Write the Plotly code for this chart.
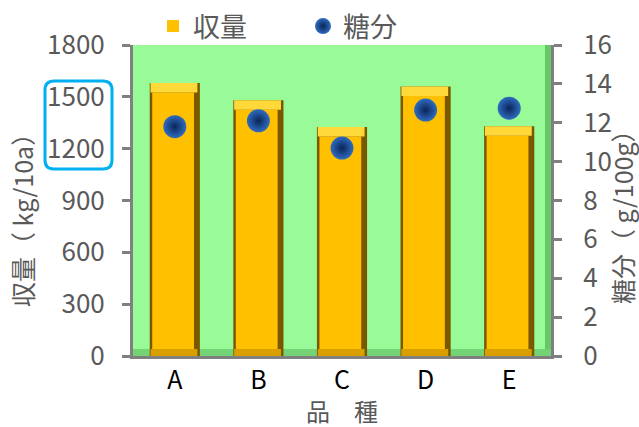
import plotly.graph_objects as go

# ---- data ----
varieties = ["A", "B", "C", "D", "E"]
yield_kg = [1580, 1480, 1325, 1560, 1330]      # 収量 (kg/10a)
sugar = [11.8, 12.1, 10.7, 12.65, 12.75]        # 糖分 (g/100g)
left_ticks = [0, 300, 600, 900, 1200, 1500, 1800]
right_ticks = [0, 2, 4, 6, 8, 10, 12, 14, 16]

FONT = "Noto Sans CJK JP"
GRAY = "#595959"
AXIS = "#808080"

W, H = 639, 427
L, R, T, B = 133, 551, 45, 356


def px(x):
    return (x - L) / (R - L)


def py(y):
    return (B - y) / (B - T)


TOPB = 55   # bevel heights in axis units (style)
BOTB = 40

fig = go.Figure()

# dark shadow body (edges)
fig.add_trace(go.Bar(
    x=varieties, y=yield_kg, width=0.6, showlegend=False, hoverinfo="skip",
    marker=dict(color="#7A5800", line=dict(width=0)), yaxis="y",
))
# bright body
fig.add_trace(go.Bar(
    x=varieties, y=[v - TOPB - BOTB for v in yield_kg], base=BOTB,
    width=0.5, offset=-0.27, name="収量",
    marker=dict(color="#FFC000", line=dict(width=0)), yaxis="y",
))
# top bevel
fig.add_trace(go.Bar(
    x=varieties, y=[TOPB] * len(yield_kg), base=[v - TOPB for v in yield_kg],
    width=0.56, offset=-0.29, showlegend=False, hoverinfo="skip",
    marker=dict(color="#FFD83A", line=dict(width=0)), yaxis="y",
))
# bottom bevel
fig.add_trace(go.Bar(
    x=varieties, y=[BOTB] * len(yield_kg), base=0,
    width=0.56, offset=-0.29, showlegend=False, hoverinfo="skip",
    marker=dict(color="#D99E00", line=dict(width=0)), yaxis="y",
))

fig.add_trace(go.Scatter(
    x=varieties, y=sugar, name="糖分", mode="markers",
    marker=dict(size=23, color="#2F6CC0",
                gradient=dict(type="radial", color="#0A2558"),
                line=dict(width=0)),
    yaxis="y2",
))

# rounded highlight box around 1500 / 1200 labels
x0, x1, y0, y1, r = 45, 112, 81, 169, 9
rx = r / (R - L)
ry = r / (B - T)
X0, X1, Y0, Y1 = px(x0), px(x1), py(y1), py(y0)
path = (f"M {X0+rx},{Y1} L {X1-rx},{Y1} Q {X1},{Y1} {X1},{Y1-ry} "
        f"L {X1},{Y0+ry} Q {X1},{Y0} {X1-rx},{Y0} L {X0+rx},{Y0} "
        f"Q {X0},{Y0} {X0},{Y0+ry} L {X0},{Y1-ry} Q {X0},{Y1} {X0+rx},{Y1} Z")

fig.update_layout(
    width=W, height=H,
    margin=dict(l=L, r=W - R, t=T, b=H - B, pad=0, autoexpand=False),
    paper_bgcolor="white",
    plot_bgcolor="#98FB98",
    font=dict(family=FONT, size=26, color=GRAY),
    barmode="overlay",
    showlegend=True,
    legend=dict(orientation="h", xref="container", yref="container",
                x=153 / W, xanchor="left", y=1 - 2 / H, yanchor="top",
                font=dict(size=27, color=GRAY), entrywidth=105,
                bgcolor="rgba(0,0,0,0)"),
    xaxis=dict(
        type="category", showline=True, linecolor=AXIS, linewidth=3,
        ticks="", showgrid=False, tickfont=dict(size=25, color="black"),
        ticklabelstandoff=0,
    ),
    yaxis=dict(
        range=[0, 1800], tickvals=left_ticks, showgrid=False, zeroline=False,
        showline=True, linecolor=AXIS, linewidth=3,
        ticks="outside", ticklen=8, tickwidth=3, tickcolor=AXIS,
        tickfont=dict(size=26, color=GRAY), ticklabelstandoff=12,
    ),
    yaxis2=dict(
        range=[0, 16], tickvals=right_ticks, overlaying="y", side="right",
        showgrid=False, zeroline=False,
        showline=True, linecolor=AXIS, linewidth=3,
        ticks="outside", ticklen=8, tickwidth=3, tickcolor=AXIS,
        tickfont=dict(size=26, color=GRAY), ticklabelstandoff=16,
    ),
    shapes=[
        # darker green side wall / floor edges
        dict(type="rect", xref="paper", yref="paper", x0=px(545), x1=1, y0=0, y1=1,
             fillcolor="#66C766", line=dict(width=0), layer="below"),
        dict(type="rect", xref="paper", yref="paper", x0=0, x1=1, y0=0, y1=py(349),
             fillcolor="#74D374", line=dict(width=0), layer="below"),
        dict(type="path", xref="paper", yref="paper", path=path,
             line=dict(color="#00B0F0", width=3), fillcolor="rgba(0,0,0,0)"),
    ],
    annotations=[
        dict(text="収量（ kg/10a）", xref="paper", yref="paper",
             x=px(22), y=py(214), textangle=-90, showarrow=False,
             font=dict(size=25, color=GRAY), xanchor="center", yanchor="middle"),
        dict(text="糖分（ g/100g）", xref="paper", yref="paper",
             x=px(622), y=py(211), textangle=-90, showarrow=False,
             font=dict(size=25, color=GRAY), xanchor="center", yanchor="middle"),
        dict(text="品　種", xref="paper", yref="paper",
             x=px(342), y=py(410), showarrow=False,
             font=dict(size=24, color=GRAY), xanchor="center", yanchor="middle"),
    ],
)

fig.write_html("out.html")
